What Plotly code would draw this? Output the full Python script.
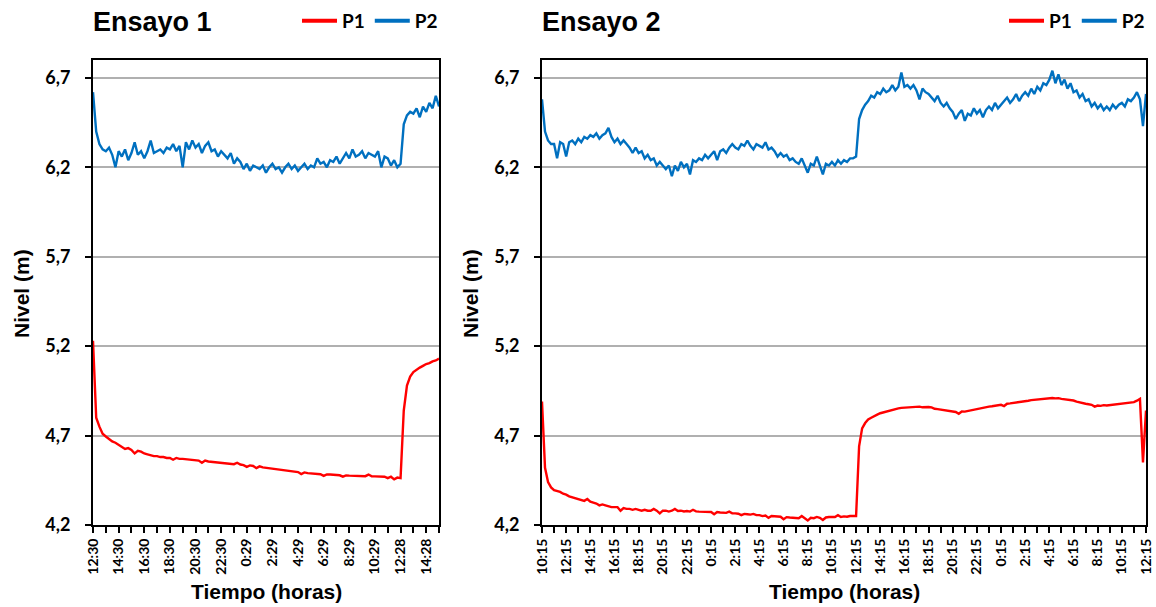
import numpy as np
import plotly.graph_objects as go

# Logger sampling interval of the series below (hours)
STEP_H = 0.25

# ---------------- Ensayo 1 (start 12:30) : nivel en metros ----------------
e1_p1 = [
    5.23, 4.80, 4.75, 4.71,
    4.695, 4.68, 4.667, 4.66,
    4.648, 4.638, 4.625, 4.63,
    4.62, 4.60, 4.615, 4.61,
    4.60, 4.595, 4.59, 4.585,
    4.585, 4.58, 4.58, 4.575,
    4.575, 4.565, 4.575, 4.57,
    4.57, 4.568, 4.565, 4.565,
    4.563, 4.56, 4.548, 4.56,
    4.555, 4.553, 4.551, 4.55,
    4.548, 4.545, 4.547, 4.543,
    4.54, 4.548, 4.538, 4.535,
    4.525, 4.533, 4.53, 4.518,
    4.528, 4.522, 4.52, 4.518,
    4.515, 4.513, 4.51, 4.508,
    4.505, 4.503, 4.50, 4.498,
    4.496, 4.485, 4.494, 4.49,
    4.488, 4.487, 4.486, 4.484,
    4.475, 4.483, 4.482, 4.48,
    4.479, 4.478, 4.47, 4.477,
    4.476, 4.476, 4.475, 4.474,
    4.474, 4.473, 4.482, 4.472,
    4.472, 4.471, 4.471, 4.47,
    4.462, 4.47, 4.455, 4.465,
    4.462, 4.84, 4.98, 5.03,
    5.055, 5.07, 5.08, 5.09,
    5.10, 5.105, 5.115, 5.12,
    5.13,
]
e1_p2 = [
    6.62, 6.40, 6.33, 6.30,
    6.29, 6.31, 6.27, 6.20,
    6.29, 6.26, 6.30, 6.24,
    6.28, 6.34, 6.27, 6.29,
    6.25, 6.29, 6.35, 6.28,
    6.29, 6.30, 6.28, 6.31,
    6.30, 6.33, 6.29, 6.32,
    6.20, 6.34, 6.30, 6.35,
    6.31, 6.33, 6.28, 6.32,
    6.34, 6.29, 6.30, 6.26,
    6.29, 6.27, 6.25, 6.28,
    6.22, 6.25, 6.23, 6.19,
    6.22, 6.18, 6.21, 6.20,
    6.19, 6.21, 6.17, 6.20,
    6.22, 6.19, 6.20, 6.17,
    6.20, 6.22, 6.19, 6.21,
    6.18, 6.20, 6.22, 6.19,
    6.21, 6.20, 6.25, 6.22,
    6.23, 6.20, 6.24, 6.23,
    6.26, 6.22, 6.25, 6.28,
    6.25, 6.30, 6.26, 6.27,
    6.29, 6.25, 6.28, 6.27,
    6.26, 6.29, 6.20, 6.26,
    6.25, 6.21, 6.24, 6.20,
    6.22, 6.44, 6.49, 6.51,
    6.50, 6.53, 6.48, 6.54,
    6.51, 6.56, 6.53, 6.60,
    6.54,
]
e1_labels = ["12:30", "14:30", "16:30", "18:30", "20:30", "22:30", "0:29",
             "2:29", "4:29", "6:29", "8:29", "10:29", "12:28", "14:28"]

# ---------------- Ensayo 2 (start 10:15) : nivel en metros ----------------
e2_p1 = [
    4.89, 4.52, 4.44, 4.41,
    4.395, 4.39, 4.385, 4.375,
    4.37, 4.36, 4.355, 4.35,
    4.345, 4.34, 4.335, 4.345,
    4.33, 4.325, 4.32, 4.31,
    4.315, 4.31, 4.305, 4.30,
    4.30, 4.30, 4.28, 4.295,
    4.29, 4.29, 4.285, 4.29,
    4.285, 4.28, 4.285, 4.28,
    4.28, 4.29, 4.28, 4.265,
    4.28, 4.28, 4.275, 4.28,
    4.29, 4.278, 4.28, 4.276,
    4.278, 4.275, 4.285, 4.276,
    4.275, 4.274, 4.272, 4.275,
    4.273, 4.26, 4.272, 4.27,
    4.27, 4.268, 4.275, 4.266,
    4.265, 4.263, 4.255, 4.262,
    4.26, 4.258, 4.262, 4.255,
    4.255, 4.25, 4.253, 4.24,
    4.25, 4.248, 4.245, 4.246,
    4.232, 4.244, 4.242, 4.24,
    4.24, 4.238, 4.25, 4.238,
    4.225, 4.24, 4.238, 4.245,
    4.24, 4.228, 4.242, 4.245,
    4.246, 4.245, 4.255, 4.245,
    4.248, 4.246, 4.25, 4.248,
    4.25, 4.64, 4.74, 4.77,
    4.79, 4.80, 4.81, 4.817,
    4.825, 4.83, 4.835, 4.84,
    4.845, 4.848, 4.852, 4.855,
    4.856, 4.858, 4.855, 4.86,
    4.86, 4.862, 4.858, 4.86,
    4.86, 4.858, 4.85, 4.848,
    4.845, 4.842, 4.84, 4.836,
    4.834, 4.832, 4.822, 4.835,
    4.834, 4.838, 4.842, 4.846,
    4.85, 4.853, 4.856, 4.86,
    4.862, 4.864, 4.868, 4.87,
    4.872, 4.865, 4.878, 4.88,
    4.882, 4.885, 4.888, 4.89,
    4.892, 4.895, 4.898, 4.90,
    4.90, 4.903, 4.905, 4.906,
    4.907, 4.91, 4.908, 4.909,
    4.905, 4.903, 4.90, 4.898,
    4.896, 4.89, 4.885, 4.882,
    4.878, 4.875, 4.872, 4.862,
    4.868, 4.866, 4.87, 4.868,
    4.87, 4.872, 4.873, 4.875,
    4.877, 4.879, 4.881, 4.883,
    4.887, 4.895, 4.905, 4.55,
    4.84,
]
e2_p2 = [
    6.58, 6.40, 6.35, 6.33,
    6.33, 6.25, 6.34, 6.33,
    6.26, 6.34, 6.35, 6.33,
    6.36, 6.34, 6.37, 6.36,
    6.38, 6.37, 6.39, 6.36,
    6.38, 6.39, 6.42, 6.37,
    6.34, 6.36, 6.33, 6.35,
    6.33, 6.31, 6.28, 6.31,
    6.28, 6.29, 6.25, 6.27,
    6.24, 6.25, 6.21, 6.23,
    6.21, 6.19, 6.21, 6.15,
    6.21, 6.18, 6.23, 6.20,
    6.22, 6.16, 6.24, 6.23,
    6.25, 6.24, 6.27, 6.25,
    6.27, 6.29, 6.24, 6.29,
    6.30, 6.28, 6.31, 6.33,
    6.31, 6.30, 6.33, 6.32,
    6.35, 6.32, 6.30, 6.33,
    6.32, 6.31, 6.34, 6.30,
    6.31, 6.29, 6.26, 6.28,
    6.26, 6.27, 6.24, 6.25,
    6.23, 6.22, 6.25, 6.21,
    6.17, 6.22, 6.21, 6.26,
    6.21, 6.16, 6.22, 6.21,
    6.23, 6.21, 6.24, 6.22,
    6.24, 6.23, 6.25, 6.25,
    6.26, 6.47, 6.52, 6.55,
    6.57, 6.60, 6.59, 6.62,
    6.61, 6.64, 6.62, 6.63,
    6.66, 6.63, 6.65, 6.73,
    6.65, 6.66, 6.64, 6.66,
    6.63, 6.58, 6.64, 6.62,
    6.61, 6.59, 6.57, 6.60,
    6.56, 6.54, 6.56, 6.53,
    6.51, 6.47, 6.50, 6.52,
    6.46, 6.50, 6.49, 6.53,
    6.50, 6.52, 6.48, 6.52,
    6.54, 6.52, 6.56, 6.53,
    6.55, 6.57, 6.59, 6.56,
    6.58, 6.61, 6.57, 6.60,
    6.62, 6.60, 6.64, 6.61,
    6.65, 6.63, 6.67, 6.66,
    6.69, 6.74, 6.67, 6.72,
    6.66, 6.69, 6.64, 6.67,
    6.62, 6.63, 6.59, 6.61,
    6.57, 6.58, 6.54, 6.56,
    6.53, 6.55, 6.52, 6.54,
    6.52, 6.55, 6.53, 6.55,
    6.56, 6.54, 6.58, 6.57,
    6.59, 6.62, 6.58, 6.43,
    6.61,
]
e2_labels = ["10:15", "12:15", "14:15", "16:15", "18:15", "20:15", "22:15",
             "0:15", "2:15", "4:15", "6:15", "8:15", "10:15", "12:15",
             "14:15", "16:15", "18:15", "20:15", "22:15", "0:15", "2:15",
             "4:15", "6:15", "8:15", "10:15", "12:15"]

y_ticks = [4.2, 4.7, 5.2, 5.7, 6.2, 6.7]
y_tick_text = ["4,2", "4,7", "5,2", "5,7", "6,2", "6,7"]
y_range = [4.2, 6.8]

RED = "#FF0000"
BLUE = "#0070C0"
W, H = 1156, 607
TICK_FONT = "Lato"
TEXT_FONT = "Liberation Sans"


def hours(values):
    return np.arange(len(values)) * STEP_H


def hour_ticks(labels):
    # one tick per hour, a label every second tick
    vals, text = [], []
    for i, lab in enumerate(labels):
        vals += [2 * i, 2 * i + 1]
        text += [lab, ""]
    return vals, text


fig = go.Figure()

panels = [
    # (p1, p2, labels, x axis, y axis, legend, plot area px, hours shown)
    (e1_p1, e1_p2, e1_labels, "x", "y", "legend", (93, 439), 27.0),
    (e2_p1, e2_p2, e2_labels, "x2", "y2", "legend2", (542, 1146), 50.0),
]

for p1, p2, labels, xa, ya, lg, _, _ in panels:
    for name, vals, col in (("P1", p1, RED), ("P2", p2, BLUE)):
        fig.add_trace(go.Scatter(x=hours(vals), y=vals, mode="lines",
                                 name=name, showlegend=False,
                                 line=dict(color=col, width=2.4),
                                 xaxis=xa, yaxis=ya))
        # legend key drawn with a heavier stroke than the data line
        fig.add_trace(go.Scatter(x=[None], y=[None], mode="lines", name=name,
                                 line=dict(color=col, width=4),
                                 xaxis=xa, yaxis=ya, legend=lg,
                                 hoverinfo="skip"))

y_dom = [(H - 525) / H, (H - 60) / H]

layout = dict(
    width=W, height=H,
    margin=dict(l=0, r=0, t=0, b=0, autoexpand=False),
    paper_bgcolor="white", plot_bgcolor="white",
    showlegend=True,
)

for k, (p1, p2, labels, xa, ya, lg, (x0, x1), xmax) in enumerate(panels):
    sfx = "" if k == 0 else "2"
    tv, tt = hour_ticks(labels)
    tv = [v for v in tv if v <= xmax]
    tt = tt[:len(tv)]
    layout["xaxis" + sfx] = dict(
        domain=[x0 / W, x1 / W], range=[0, xmax], anchor="y" + sfx,
        automargin=False,
        tickmode="array", tickvals=tv, ticktext=tt, tickangle=-90,
        ticks="outside", ticklen=6, tickwidth=1.5, tickcolor="black",
        showline=True, linecolor="black", linewidth=2, mirror=True,
        showgrid=False, zeroline=False,
        tickfont=dict(family=TICK_FONT, size=14, color="black", weight="bold"),
    )
    layout["yaxis" + sfx] = dict(
        domain=y_dom, range=y_range, anchor="x" + sfx,
        automargin=False,
        tickmode="array", tickvals=y_ticks, ticktext=y_tick_text,
        ticks="outside", ticklen=6, tickwidth=1.5, tickcolor="black",
        showline=True, linecolor="black", linewidth=2, mirror=True,
        showgrid=True, gridcolor="#b0b0b0", gridwidth=1.5, zeroline=False,
        tickfont=dict(family=TICK_FONT, size=18, color="black", weight="bold"),
        ticklabelstandoff=11,
    )
    layout["legend" + ("" if k == 0 else "2")] = dict(
        orientation="h", x=(x1 + 4) / W, xanchor="right", y=(H - 21) / H,
        yanchor="middle", bgcolor="rgba(0,0,0,0)", borderwidth=0,
        font=dict(family=TICK_FONT, size=19, color="black", weight="bold"),
        itemwidth=35, tracegroupgap=0,
    )

fig.update_layout(**layout)

annotations = []
for k, (p1, p2, labels, xa, ya, lg, (x0, x1), xmax) in enumerate(panels):
    annotations.append(dict(
        text="Ensayo %d" % (k + 1), xref="paper", yref="paper",
        x=(x0 - 2) / W, y=(H - 22) / H, xanchor="left", yanchor="middle",
        showarrow=False,
        font=dict(family=TEXT_FONT, size=27, color="black", weight="bold"),
    ))
    annotations.append(dict(
        text="Tiempo (horas)", xref="paper", yref="paper",
        x=(x0 + x1) / 2 / W, y=(H - 591) / H, xanchor="center",
        yanchor="middle", showarrow=False,
        font=dict(family=TEXT_FONT, size=21, color="black", weight="bold"),
    ))
    annotations.append(dict(
        text="Nivel (m)", xref="paper", yref="paper", textangle=-90,
        x=(x0 - 72) / W, y=(H - 294) / H, xanchor="center",
        yanchor="middle", showarrow=False,
        font=dict(family=TEXT_FONT, size=21, color="black", weight="bold"),
    ))
fig.update_layout(annotations=annotations)

fig.write_html("out.html")
